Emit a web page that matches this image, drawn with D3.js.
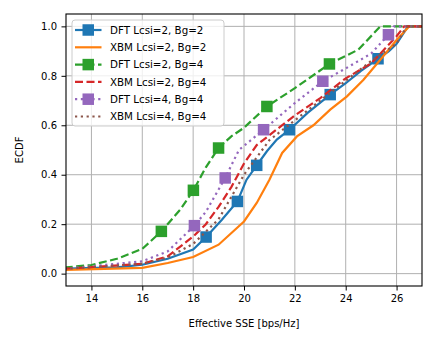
<!DOCTYPE html>
<html>
<head>
<meta charset="utf-8">
<script src="https://cdn.jsdelivr.net/npm/d3@7"></script>
<style>
  body { margin: 0; background: #fff; }
  svg { display: block; font-family: "DejaVu Sans", sans-serif; }
  .tick text { font-size: 10px; fill: #000; }
  .grid line { stroke: #b0b0b0; stroke-width: 1; }
  .axis-label { font-size: 10px; fill: #000; }
  .legend text { font-size: 10.3px; fill: #000; }
</style>
</head>
<body>
<div id="chart"></div>
<script>
// ECDF curves, x = effective SSE, y = cumulative fraction
const dftL2B2X = [12.5, 13, 15, 16, 17, 18, 18.51, 19.13, 19.74, 20.1, 20.5, 20.9, 21.29, 21.79, 22.5, 23.39, 24, 24.6, 25.27, 25.7, 26, 26.45, 27.5];
const dftL2B2Y = [0.015, 0.02, 0.025, 0.036, 0.06, 0.097, 0.148, 0.218, 0.292, 0.38, 0.438, 0.495, 0.542, 0.582, 0.65, 0.724, 0.77, 0.82, 0.869, 0.9, 0.93, 1.0, 1.0];
const dftL2B2MarkX = [18.51, 19.74, 20.5, 21.79, 23.39, 25.27];
const dftL2B2MarkY = [0.148, 0.292, 0.438, 0.582, 0.724, 0.869];

const xbmL2B2X = [12.5, 13, 16, 17, 18, 19, 20, 20.5, 21, 21.5, 22.08, 22.73, 23.39, 24.05, 24.7, 25.36, 26.01, 26.5, 27.5];
const xbmL2B2Y = [0.012, 0.015, 0.023, 0.043, 0.067, 0.117, 0.211, 0.286, 0.38, 0.488, 0.555, 0.6, 0.663, 0.717, 0.784, 0.865, 0.946, 1.0, 1.0];

const dftL2B4X = [12.5, 13, 14, 15, 16, 16.75, 17.5, 18.01, 18.5, 19.0, 19.5, 20, 20.9, 22, 23.36, 24.5, 25.36, 27.5];
const dftL2B4Y = [0.02, 0.025, 0.035, 0.06, 0.1, 0.171, 0.26, 0.337, 0.43, 0.508, 0.555, 0.59, 0.676, 0.75, 0.848, 0.906, 1.0, 1.0];
const dftL2B4MarkX = [16.75, 18.01, 19.0, 20.9, 23.36];
const dftL2B4MarkY = [0.171, 0.337, 0.508, 0.676, 0.848];

const xbmL2B4X = [12.5, 13, 16, 17, 18, 18.5, 19, 19.5, 20, 20.5, 21, 22, 23, 24, 25, 26, 26.3, 27.5];
const xbmL2B4Y = [0.015, 0.02, 0.04, 0.07, 0.15, 0.2, 0.27, 0.35, 0.445, 0.52, 0.56, 0.64, 0.71, 0.79, 0.85, 0.96, 1.0, 1.0];

const dftL4B4X = [12.5, 13, 16, 17, 18.05, 18.5, 19.26, 19.8, 20.77, 22, 23.1, 24, 25, 25.68, 25.9, 27.5];
const dftL4B4Y = [0.015, 0.02, 0.05, 0.09, 0.194, 0.25, 0.387, 0.5, 0.582, 0.69, 0.778, 0.83, 0.89, 0.966, 1.0, 1.0];
const dftL4B4MarkX = [18.05, 19.26, 20.77, 23.1, 25.68];
const dftL4B4MarkY = [0.194, 0.387, 0.582, 0.778, 0.966];

const xbmL4B4X = [12.5, 13, 16, 17, 18, 19, 20, 21, 22, 23, 24, 25, 26, 26.4, 27.5];
const xbmL4B4Y = [0.015, 0.02, 0.04, 0.065, 0.12, 0.22, 0.4, 0.54, 0.62, 0.7, 0.78, 0.86, 0.93, 1.0, 1.0];

const xTicks = [14, 16, 18, 20, 22, 24, 26];
const yTicks = [0.0, 0.2, 0.4, 0.6, 0.8, 1.0];

const series = [
  {name: "DFT Lcsi=2, Bg=2", color: "#1f77b4", dash: null, xs: dftL2B2X, ys: dftL2B2Y, mx: dftL2B2MarkX, my: dftL2B2MarkY},
  {name: "XBM Lcsi=2, Bg=2", color: "#ff7f0e", dash: null, xs: xbmL2B2X, ys: xbmL2B2Y},
  {name: "DFT Lcsi=2, Bg=4", color: "#2ca02c", dash: "8,3.5", xs: dftL2B4X, ys: dftL2B4Y, mx: dftL2B4MarkX, my: dftL2B4MarkY},
  {name: "XBM Lcsi=2, Bg=4", color: "#d62728", dash: "8,3.5", xs: xbmL2B4X, ys: xbmL2B4Y},
  {name: "DFT Lcsi=4, Bg=4", color: "#9467bd", dash: "2.2,3.6", xs: dftL4B4X, ys: dftL4B4Y, mx: dftL4B4MarkX, my: dftL4B4MarkY},
  {name: "XBM Lcsi=4, Bg=4", color: "#8c564b", dash: "2.2,3.6", xs: xbmL4B4X, ys: xbmL4B4Y}
];

const margin = {top: 14, right: 14, bottom: 59, left: 66};
const W = 436, H = 345;
const width = W - margin.left - margin.right;
const height = H - margin.top - margin.bottom;

const svg = d3.select("#chart").append("svg")
    .attr("width", W)
    .attr("height", H);

const g = svg.append("g")
    .attr("transform", `translate(${margin.left},${margin.top})`);

const x = d3.scaleLinear().domain([13, 27]).range([0, width]);
const y = d3.scaleLinear().domain([-0.05, 1.05]).range([height, 0]);

g.append("clipPath").attr("id", "clip")
  .append("rect").attr("width", width).attr("height", height);

// grid
const grid = g.append("g").attr("class", "grid");
grid.selectAll(".gx").data(xTicks).enter().append("line")
    .attr("x1", d => x(d)).attr("x2", d => x(d))
    .attr("y1", 0).attr("y2", height);
grid.selectAll(".gy").data(yTicks).enter().append("line")
    .attr("x1", 0).attr("x2", width)
    .attr("y1", d => y(d)).attr("y2", d => y(d));

// curves
const plot = g.append("g").attr("clip-path", "url(#clip)");
const line = d3.line().x(d => x(d[0])).y(d => y(d[1]));

series.forEach(s => {
    const pts = s.xs.map((v, i) => [v, s.ys[i]]);
    plot.append("path")
        .datum(pts)
        .attr("fill", "none")
        .attr("stroke", s.color)
        .attr("stroke-width", 2.2)
        .attr("stroke-dasharray", s.dash)
        .attr("d", line);
    if (s.mx) {
        const m = 11.5;
        plot.selectAll(null)
            .data(s.mx.map((v, i) => [v, s.my[i]]))
            .enter().append("rect")
            .attr("x", d => x(d[0]) - m / 2)
            .attr("y", d => y(d[1]) - m / 2)
            .attr("width", m).attr("height", m)
            .attr("fill", s.color);
    }
});

// axes
const xAxis = g.append("g")
    .attr("transform", `translate(0,${height})`)
    .call(d3.axisBottom(x).tickValues(xTicks).tickSize(4.5).tickPadding(4.5).tickFormat(d3.format("d")));
const yAxis = g.append("g")
    .call(d3.axisLeft(y).tickValues(yTicks).tickSize(4.5).tickPadding(4.5).tickFormat(d3.format(".1f")));
[xAxis, yAxis].forEach(a => {
    a.select(".domain").remove();
    a.selectAll(".tick line").attr("stroke", "#000").attr("stroke-width", 1);
    a.selectAll(".tick text").attr("font-family", "DejaVu Sans");
});

g.append("rect")
    .attr("width", width).attr("height", height)
    .attr("fill", "none").attr("stroke", "#000").attr("stroke-width", 1.1);

g.append("text")
    .attr("class", "axis-label")
    .attr("text-anchor", "middle")
    .attr("x", width / 2)
    .attr("y", height + 41)
    .text("Effective SSE [bps/Hz]");

g.append("text")
    .attr("class", "axis-label")
    .attr("text-anchor", "middle")
    .attr("transform", "rotate(-90)")
    .attr("x", -height / 2)
    .attr("y", -43)
    .text("ECDF");

// legend
const legend = g.append("g").attr("class", "legend").attr("transform", "translate(6,6)");
legend.append("rect")
    .attr("width", 152).attr("height", 106)
    .attr("rx", 3)
    .attr("fill", "#fff").attr("fill-opacity", 0.8)
    .attr("stroke", "#cccccc").attr("stroke-width", 1);

series.forEach((s, i) => {
    const row = legend.append("g").attr("transform", `translate(0,${10 + i * 17.3})`);
    row.append("line")
        .attr("x1", 3).attr("x2", 29.5)
        .attr("stroke", s.color).attr("stroke-width", 2.2)
        .attr("stroke-dasharray", s.dash);
    if (s.mx) {
        row.append("rect")
            .attr("x", 16.25 - 5.75).attr("y", -5.75)
            .attr("width", 11.5).attr("height", 11.5)
            .attr("fill", s.color);
    }
    row.append("text")
        .attr("x", 38).attr("dy", "0.35em")
        .text(s.name);
});
</script>
</body>
</html>
